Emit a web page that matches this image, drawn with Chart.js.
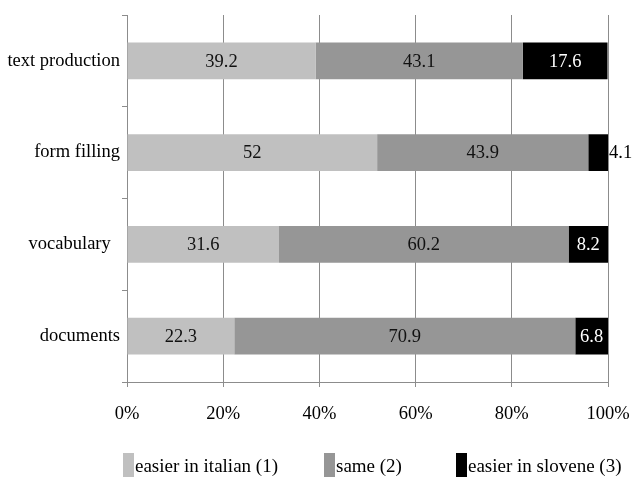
<!DOCTYPE html>
<html>
<head>
<meta charset="utf-8">
<script src="https://cdn.jsdelivr.net/npm/chart.js@4.4.1/dist/chart.umd.min.js"></script>
<style>
  html, body { margin: 0; padding: 0; background: #fff; }
  #wrap { width: 635px; height: 477px; position: relative; }
</style>
</head>
<body>
<div id="wrap"><canvas id="chart"></canvas></div>
<script>
// Survey answers (percent of respondents) per task
const categories = ['text production', 'form filling', 'vocabulary  ', 'documents'];
const easierItalian = [39.2, 52, 31.6, 22.3];
const same = [43.1, 43.9, 60.2, 70.9];
const easierSlovene = [17.6, 4.1, 8.2, 6.8];
const seriesNames = ['easier in italian (1)', 'same (2)', 'easier in slovene (3)'];
const xTicks = [0, 20, 40, 60, 80, 100];

const FONT = "'Liberation Serif', 'Times New Roman', serif";
const FS = 18.5;

// Writes each segment's value centred in the segment; a value too wide for
// its segment is set just past the segment's right end.
const valueLabels = {
  id: 'valueLabels',
  afterDatasetsDraw(chart) {
    const ctx = chart.ctx;
    ctx.save();
    ctx.font = FS + 'px ' + FONT;
    ctx.textBaseline = 'middle';
    chart.data.datasets.forEach((ds, di) => {
      const meta = chart.getDatasetMeta(di);
      meta.data.forEach((bar, i) => {
        const p = bar.getProps(['x', 'y', 'base'], true);
        const txt = String(ds.data[i]);
        const w = ctx.measureText(txt).width;
        const segW = Math.abs(p.x - p.base);
        ctx.fillStyle = ds.labelColor;
        if (w + 4 > segW) {
          ctx.textAlign = 'left';
          ctx.fillStyle = '#000';
          ctx.fillText(txt, Math.max(p.x, p.base) + 1, p.y + 1);
        } else {
          ctx.textAlign = 'center';
          ctx.fillText(txt, (p.x + p.base) / 2, p.y + 1);
        }
      });
    });
    ctx.restore();
  }
};

// Legend row under the axis: tall swatch followed by the series name
const legendX = [123, 324, 456];
const bottomLegend = {
  id: 'bottomLegend',
  afterDraw(chart) {
    const ctx = chart.ctx;
    ctx.save();
    ctx.font = '19px ' + FONT;
    ctx.textBaseline = 'middle';
    ctx.textAlign = 'left';
    chart.data.datasets.forEach((ds, di) => {
      const x = legendX[di];
      ctx.fillStyle = ds.backgroundColor;
      ctx.fillRect(x, 453, 11, 24);
      ctx.fillStyle = '#000';
      ctx.fillText(ds.label, x + 12, 467);
    });
    ctx.restore();
  }
};

const colors = ['#c0c0c0', '#969696', '#000000'];
const labelColors = ['#111', '#111', '#fff'];
const values = [easierItalian, same, easierSlovene];

new Chart(document.getElementById('chart'), {
  type: 'bar',
  data: {
    labels: categories,
    datasets: values.map((v, k) => ({
      label: seriesNames[k],
      data: v,
      backgroundColor: colors[k],
      labelColor: labelColors[k],
      borderWidth: 0,
      categoryPercentage: 1,
      barPercentage: 0.4
    }))
  },
  options: {
    indexAxis: 'y',
    responsive: true,
    maintainAspectRatio: false,
    animation: false,
    layout: { padding: { top: 15, right: 27, left: 0, bottom: 0 } },
    plugins: {
      legend: { display: false },
      tooltip: { enabled: false }
    },
    scales: {
      x: {
        stacked: true,
        min: 0,
        max: 100,
        afterBuildTicks(scale) { scale.ticks = xTicks.map(v => ({ value: v })); },
        afterFit(scale) {
          scale.height = 95;
          scale.paddingLeft = 0;
          scale.paddingRight = 0;
        },
        ticks: {
          callback: v => v + '%',
          font: { family: FONT, size: FS },
          color: '#000',
          padding: 16,
          maxRotation: 0
        },
        grid: { color: '#8c8c8c', lineWidth: 1, tickLength: 5, drawTicks: true },
        border: { display: true, color: '#8c8c8c', width: 1 }
      },
      y: {
        stacked: true,
        afterFit(scale) { scale.width = 127; },
        ticks: {
          font: { family: FONT, size: FS },
          color: '#000',
          padding: 2
        },
        grid: { drawOnChartArea: false, drawTicks: true, tickLength: 5, color: '#8c8c8c' },
        border: { display: true, color: '#8c8c8c', width: 1 }
      }
    }
  },
  plugins: [valueLabels, bottomLegend]
});
</script>
</body>
</html>
